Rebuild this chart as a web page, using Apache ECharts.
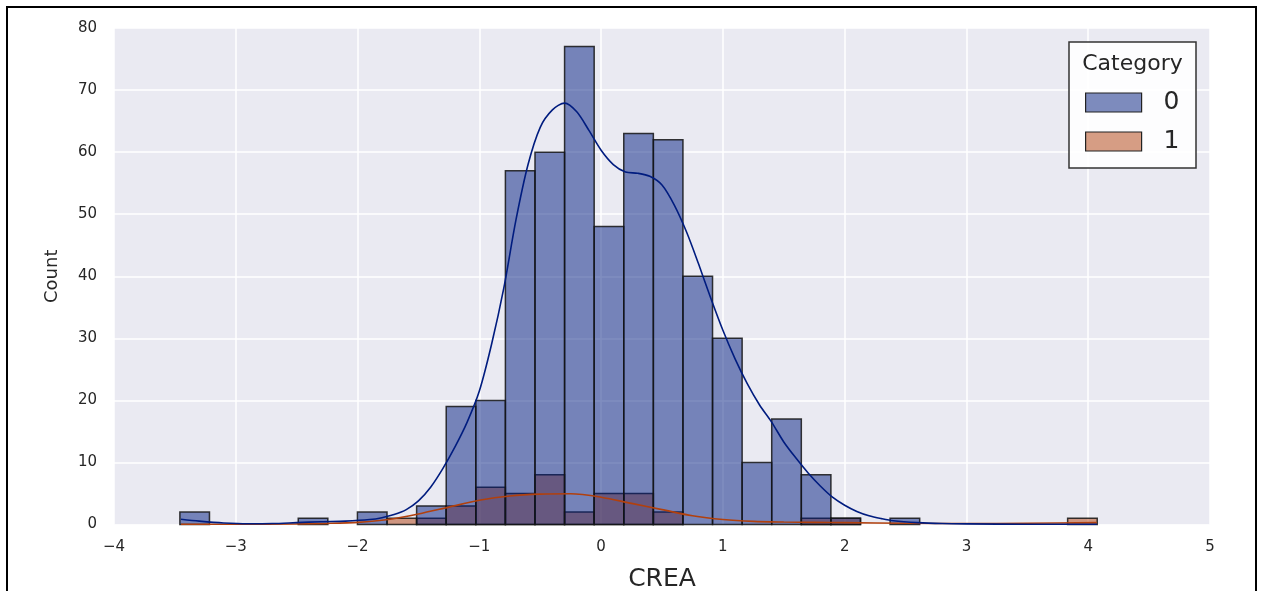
<!DOCTYPE html>
<html>
<head>
<meta charset="utf-8">
<title>CREA histogram</title>
<script src="https://cdn.jsdelivr.net/npm/echarts@6/dist/echarts.min.js"></script>
<style>
  html, body { margin: 0; padding: 0; background: #ffffff; }
  #chart { width: 1263px; height: 591px; }
</style>
</head>
<body>
<div id="chart"></div>
<script>
// Histogram layout: equal-width bins starting at binStart
const binStart = -3.459;
const binWidth = 0.243;

// Counts per bin, Category 0 and Category 1
const counts0 = [2, 0, 0, 0, 1, 0, 2, 0, 3, 19, 20, 57, 60, 77, 48, 63, 62, 40, 30, 10, 17, 8, 1, 0, 1, 0, 0, 0, 0, 0, 0];
const counts1 = [0, 0, 0, 0, 0, 0, 0, 1, 1, 3, 6, 5, 8, 2, 5, 5, 2, 0, 0, 0, 0, 1, 1, 0, 0, 0, 0, 0, 0, 0, 1];

// Density curves (scaled to counts): x positions and heights
const kde0X = [-3.45, -3.3, -3.1, -2.9, -2.7, -2.5, -2.3, -2.1, -1.9, -1.8, -1.7, -1.6, -1.5, -1.4, -1.3, -1.2, -1.1, -1.0, -0.9, -0.8, -0.7, -0.6, -0.5, -0.4, -0.3, -0.2, -0.1, 0.0, 0.1, 0.2, 0.3, 0.4, 0.5, 0.6, 0.7, 0.8, 0.9, 1.0, 1.1, 1.2, 1.3, 1.4, 1.5, 1.6, 1.7, 1.8, 1.9, 2.0, 2.1, 2.2, 2.3, 2.4, 2.6, 2.8, 3.0, 3.5, 4.07];
const kde0Y = [0.85, 0.55, 0.25, 0.12, 0.15, 0.3, 0.45, 0.55, 0.8, 1.1, 1.6, 2.4, 3.8, 6, 9, 12.5, 16.5, 21.5, 29, 38, 49, 58, 64, 66.8, 67.9, 66.5, 63.5, 60.3, 58, 56.8, 56.6, 56.1, 54.7, 51.5, 47.2, 42, 36.5, 31.3, 26.7, 22.7, 19.3, 16.5, 13.3, 10.7, 8.3, 6.2, 4.4, 3.1, 2.1, 1.4, 0.95, 0.6, 0.3, 0.15, 0.1, 0.05, 0.05];
const kde1X = [-3.45, -3.0, -2.5, -2.25, -2.0, -1.75, -1.5, -1.25, -1.0, -0.75, -0.5, -0.25, 0.0, 0.25, 0.5, 0.75, 1.0, 1.25, 1.5, 1.75, 2.0, 2.5, 3.0, 3.5, 4.07];
const kde1Y = [0.05, 0.05, 0.1, 0.18, 0.35, 0.8, 1.7, 2.8, 3.9, 4.6, 4.9, 4.95, 4.4, 3.4, 2.4, 1.4, 0.8, 0.5, 0.4, 0.35, 0.3, 0.2, 0.15, 0.2, 0.3];

const categories = ['0', '1'];
const xTicks = { min: -4, max: 5, step: 1 };
const yTicks = { min: 0, max: 80, step: 10 };

const FONT = 'DejaVu Sans';
const TEXT = '#262626';

function binData(counts) {
  return counts.map((c, i) => [binStart + i * binWidth, binStart + (i + 1) * binWidth, c]);
}

function barSeries(name, counts, fill) {
  return {
    name: name,
    type: 'custom',
    data: binData(counts),
    encode: { x: [0, 1], y: 2 },
    itemStyle: { color: fill },
    renderItem: function (params, api) {
      const c = api.value(2);
      if (!c) return null;
      const p0 = api.coord([api.value(0), c]);
      const p1 = api.coord([api.value(1), 0]);
      return {
        type: 'rect',
        shape: { x: p0[0], y: p0[1], width: p1[0] - p0[0], height: p1[1] - p0[1] },
        style: { fill: fill, stroke: 'rgba(20,20,20,0.85)', lineWidth: 1.5 }
      };
    },
    z: 2
  };
}

function kdeSeries(name, xs, ys, color) {
  return {
    name: name,
    type: 'line',
    data: xs.map((x, i) => [x, ys[i]]),
    smooth: 0.3,
    showSymbol: false,
    lineStyle: { color: color, width: 1.6 },
    itemStyle: { color: color },
    silent: true,
    z: 5
  };
}

const chart = echarts.init(document.getElementById('chart'), null, { renderer: 'canvas' });

const option = {
  animation: false,
  backgroundColor: '#ffffff',
  textStyle: { fontFamily: FONT },
  grid: {
    left: 114, right: 53, top: 28, bottom: 66.5,
    outerBoundsMode: 'none',
    containLabel: false,
    show: true, backgroundColor: '#eaeaf2', borderWidth: 0
  },
  xAxis: {
    type: 'value',
    min: xTicks.min, max: xTicks.max, interval: xTicks.step,
    name: 'CREA', nameLocation: 'middle', nameGap: 42,
    nameTextStyle: { fontSize: 25, color: TEXT, fontFamily: FONT },
    axisLine: { show: false }, axisTick: { show: false },
    axisLabel: {
      fontSize: 15, color: TEXT, fontFamily: FONT, margin: 15,
      formatter: v => String(v).replace('-', '\u2212')
    },
    splitLine: { show: true, lineStyle: { color: '#ffffff', width: 1.5 } }
  },
  yAxis: {
    type: 'value',
    min: yTicks.min, max: yTicks.max, interval: yTicks.step,
    name: 'Count', nameLocation: 'middle', nameGap: 53, nameRotate: 90,
    nameTextStyle: { fontSize: 18, color: TEXT, fontFamily: FONT },
    axisLine: { show: false }, axisTick: { show: false },
    axisLabel: { fontSize: 15, color: TEXT, fontFamily: FONT, margin: 17 },
    splitLine: { show: true, lineStyle: { color: '#ffffff', width: 1.5 } }
  },
  legend: {
    orient: 'vertical',
    left: 1085, top: 90,
    padding: 0,
    icon: 'rect',
    itemWidth: 56, itemHeight: 19, itemGap: 14,
    selectedMode: false,
    textStyle: { fontSize: 25, color: TEXT, fontFamily: FONT, padding: [0, 0, 0, 17] },
    data: [
      { name: categories[0], itemStyle: { color: '#7d8bbd', borderColor: '#222', borderWidth: 1.2 } },
      { name: categories[1], itemStyle: { color: '#d69d84', borderColor: '#222', borderWidth: 1.2 } }
    ],
    z: 10
  },
  graphic: [
    {
      type: 'rect', z: 8, silent: true,
      shape: { x: 1069, y: 42, width: 127, height: 126 },
      style: { fill: 'rgba(255,255,255,0.9)', stroke: '#333', lineWidth: 1.5 }
    },
    {
      type: 'text', z: 9, silent: true,
      style: {
        text: 'Category', x: 1132.5, y: 64, align: 'center', verticalAlign: 'middle',
        font: '22px "DejaVu Sans"', fill: TEXT
      }
    },
    {
      type: 'rect', z: 20, silent: true,
      shape: { x: 7, y: 7, width: 1249, height: 620 },
      style: { fill: 'none', stroke: '#000', lineWidth: 2 }
    }
  ],
  series: [
    // Category 1 drawn first so Category 0 sits on top of it
    barSeries(categories[1], counts1, 'rgba(177,64,13,0.5)'),
    barSeries(categories[0], counts0, 'rgba(0,28,127,0.5)'),
    kdeSeries('density 1', kde1X, kde1Y, '#b1400d'),
    kdeSeries('density 0', kde0X, kde0Y, '#001c7f')
  ]
};

chart.setOption(option);
</script>
</body>
</html>
